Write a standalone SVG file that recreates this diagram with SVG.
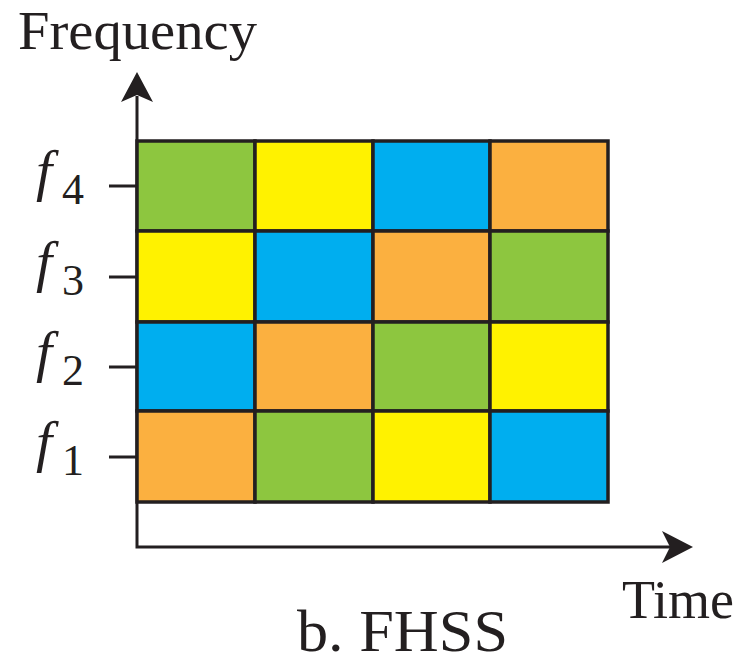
<svg xmlns="http://www.w3.org/2000/svg" width="755" height="665" viewBox="0 0 755 665">
<style>
.cell{stroke:#231f20;stroke-width:3.5}
.g{fill:#8dc63f}.y{fill:#fff200}.b{fill:#00aeef}.o{fill:#fbb040}
.ax{stroke:#231f20;stroke-width:3;fill:none}
.t{font-family:"Liberation Serif","Times New Roman",serif;fill:#231f20}
.fi{font-style:italic;font-size:58px}
.sub{font-size:44px;font-style:normal}
</style>
<rect width="755" height="665" fill="#ffffff"/>
<g id="connectors">
<path class="ax" d="M137,96 V547 H672"/>
<path fill="#231f20" d="M137,72 L153,102 L137,95 L121,102 Z"/>
<path fill="#231f20" d="M693,547 L662,531 L670,547 L662,563 Z"/>
<path class="ax" d="M109,186 H137 M109,277 H137 M109,367 H137 M109,457 H137"/>
</g>
<g id="grid">
<g id="r4">
<rect class="cell g" x="137" y="141" width="118" height="90"/>
<rect class="cell y" x="255" y="141" width="118" height="90"/>
<rect class="cell b" x="373" y="141" width="117" height="90"/>
<rect class="cell o" x="490" y="141" width="118" height="90"/>
</g>
<g id="r3">
<rect class="cell y" x="137" y="231" width="118" height="91"/>
<rect class="cell b" x="255" y="231" width="118" height="91"/>
<rect class="cell o" x="373" y="231" width="117" height="91"/>
<rect class="cell g" x="490" y="231" width="118" height="91"/>
</g>
<g id="r2">
<rect class="cell b" x="137" y="322" width="118" height="89"/>
<rect class="cell o" x="255" y="322" width="118" height="89"/>
<rect class="cell g" x="373" y="322" width="117" height="89"/>
<rect class="cell y" x="490" y="322" width="118" height="89"/>
</g>
<g id="r1">
<rect class="cell o" x="137" y="411" width="118" height="91"/>
<rect class="cell g" x="255" y="411" width="118" height="91"/>
<rect class="cell y" x="373" y="411" width="117" height="91"/>
<rect class="cell b" x="490" y="411" width="118" height="91"/>
</g>
</g>
<g id="labels">
<text class="t" x="18" y="49" font-size="55" textLength="239" lengthAdjust="spacingAndGlyphs">Frequency</text>
<text class="t" x="622" y="618" font-size="54">Time</text>
<text class="t" x="297" y="651" font-size="60" textLength="211" lengthAdjust="spacingAndGlyphs">b. FHSS</text>
<text class="t fi" x="36" y="190">f<tspan class="sub" x="62" y="204">4</tspan></text>
<text class="t fi" x="36" y="281">f<tspan class="sub" x="62" y="295">3</tspan></text>
<text class="t fi" x="36" y="371">f<tspan class="sub" x="62" y="385">2</tspan></text>
<text class="t fi" x="36" y="461">f<tspan class="sub" x="62" y="475">1</tspan></text>
</g>
</svg>
